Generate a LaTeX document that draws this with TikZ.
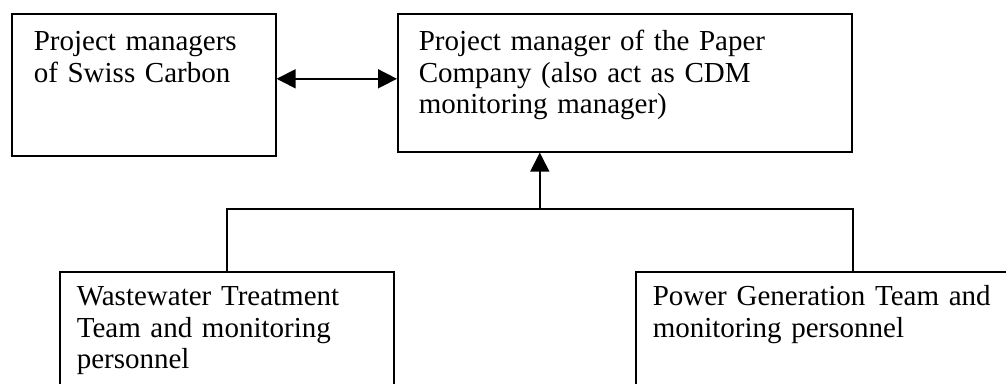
\documentclass[tikz,border=0pt]{standalone}
\usepackage{fontspec}
\setmainfont{Liberation Serif}
\usepackage{tikz}
\usetikzlibrary{arrows.meta, positioning, calc}

\begin{document}
\begin{tikzpicture}[x=1pt, y=-1pt,
    box/.style={draw, line width=1.6pt, anchor=north west, align=left, inner ysep=0pt,
      font=\fontsize{29}{31.5}\selectfont},
    link/.style={line width=1.6pt},
    arr/.style={link, -{Triangle[length=19pt, width=19pt]}},
    dblarr/.style={link, {Triangle[length=19pt, width=19pt]}-{Triangle[length=19pt, width=19pt]}}]
  \clip (0,0) rectangle (1006,383);

  % Boxes
  \node[box, inner xsep=22pt, text width=220pt, text height=37pt, text depth=105pt] (swiss) at (11,13) {
    Project managers\\
    of Swiss Carbon
  };
  \node[box, inner xsep=21pt, text width=412pt, text height=37pt, text depth=101pt] (paper) at (397,13) {
    Project manager of the Paper\\
    Company (also act as CDM\\
    monitoring manager)
  };
  \node[box, inner xsep=17pt, text width=300pt, text height=34pt, text depth=106pt] (waste) at (59,271) {
    Wastewater Treatment\\
    Team and monitoring\\
    personnel
  };
  \node[box, inner xsep=17pt, text width=400pt, text height=34pt, text depth=106pt] (power) at (635,271) {
    Power Generation Team and\\
    monitoring personnel
  };

  % Links
  \draw[dblarr] ([yshift=6pt]swiss.east) -- ([yshift=6pt]swiss.east -| paper.west);
  \draw[link] (waste.north) -- ++(0,-62) coordinate (busl) -| (power.north);
  \coordinate (bus) at ($(busl)!0.5!(busl -| power.north)$);
  \draw[arr] (bus) -- (bus |- paper.south);
\end{tikzpicture}
\end{document}
